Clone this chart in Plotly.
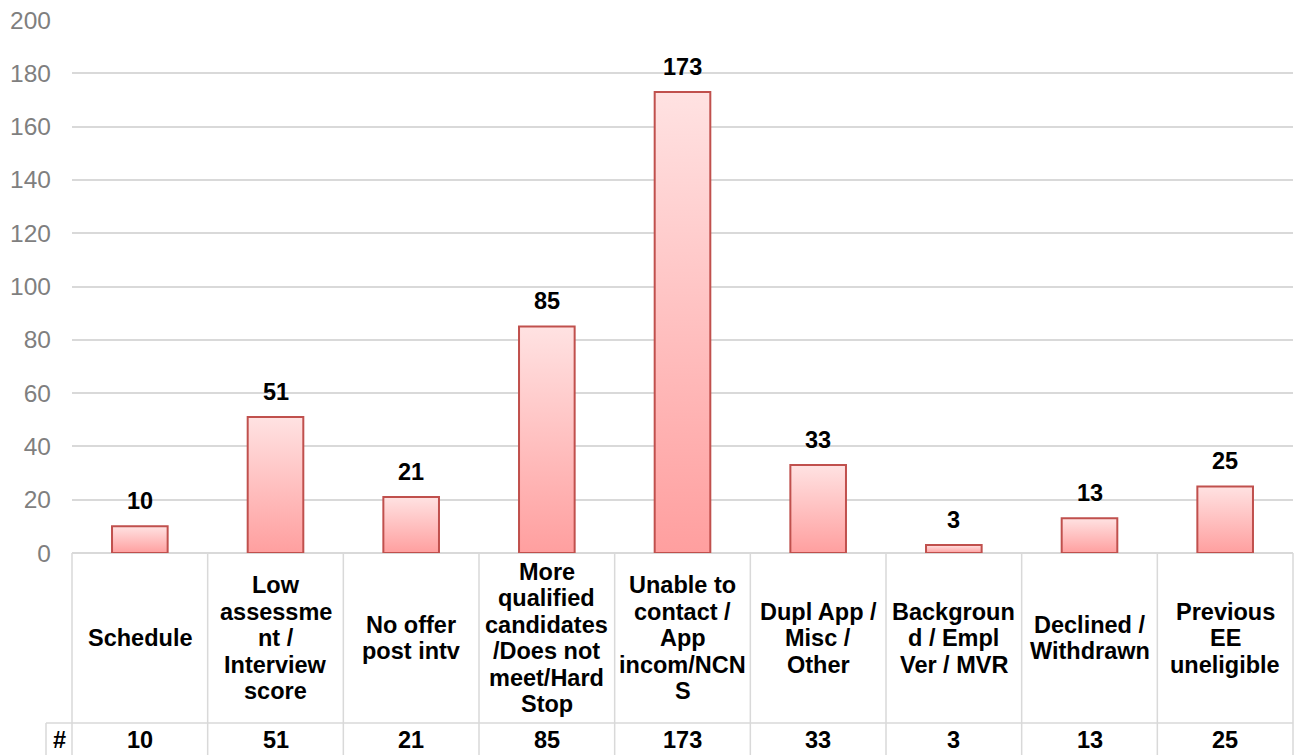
import plotly.graph_objects as go

# categories (line breaks as shown on the chart) and counts
categories = [
    "Schedule",
    "Low<br>assessme<br>nt /<br>Interview<br>score",
    "No offer<br>post intv",
    "More<br>qualified<br>candidates<br>/Does not<br>meet/Hard<br>Stop",
    "Unable to<br>contact /<br>App<br>incom/NCN<br>S",
    "Dupl App /<br>Misc /<br>Other",
    "Backgroun<br>d / Empl<br>Ver / MVR",
    "Declined /<br>Withdrawn",
    "Previous<br>EE<br>uneligible",
]
counts = [10, 51, 21, 85, 173, 33, 3, 13, 25]
row_label = "#"

W, H = 1299, 755
M_L, M_R, M_T, M_B = 72, 6, 20, 202
PLOT_H = H - M_T - M_B
FONT = "Liberation Sans, Arial, sans-serif"
GRID = "#d9d9d9"
TXT = 23.5
LINE_H = 26.5
n = len(categories)
bw = 0.205  # half bar width in category units


def py(px_below):
    # paper y for a pixel offset below the plot bottom
    return -px_below / PLOT_H


def px_x(px_left):
    # paper x for a pixel offset left of the plot
    return -px_left / (W - M_L - M_R)


fig = go.Figure()

for i, v in enumerate(counts):
    fig.add_trace(
        go.Scatter(
            x=[i - bw, i - bw, i + bw, i + bw, i - bw],
            y=[0, v, v, 0, 0],
            mode="lines",
            fill="toself",
            fillgradient=dict(type="vertical", colorscale=[[0, "#ff9f9f"], [1, "#ffe2e2"]]),
            line=dict(color="#c0504d", width=2),
            hoverinfo="skip",
            showlegend=False,
        )
    )

bold = dict(family=FONT, size=TXT, color="black")
annotations = []
for i, v in enumerate(counts):
    annotations.append(dict(
        x=i, y=v, xref="x", yref="y", text=f"<b>{v}</b>", showarrow=False,
        xanchor="center", yanchor="middle", yshift=25, font=bold,
    ))
    lines = categories[i].split("<br>")
    for j, part in enumerate(lines):
        off = 85 + (j - (len(lines) - 1) / 2) * LINE_H
        annotations.append(dict(
            x=i, y=py(off), xref="x", yref="paper", text=f"<b>{part}</b>", showarrow=False,
            xanchor="center", yanchor="middle", font=bold,
        ))
    annotations.append(dict(
        x=i, y=py(187), xref="x", yref="paper", text=f"<b>{v}</b>", showarrow=False,
        xanchor="center", yanchor="middle", font=bold,
    ))
annotations.append(dict(
    x=px_x(13), y=py(187), xref="paper", yref="paper", text=f"<b>{row_label}</b>", showarrow=False,
    xanchor="center", yanchor="middle", font=bold,
))

shapes = []
line = dict(color=GRID, width=1.5)
for k in range(n + 1):
    shapes.append(dict(type="line", xref="paper", yref="paper", x0=k / n, x1=k / n,
                       y0=0, y1=py(M_B + 5), line=line))
shapes.append(dict(type="line", xref="paper", yref="paper", x0=px_x(26), x1=1,
                   y0=py(170), y1=py(170), line=line))
shapes.append(dict(type="line", xref="paper", yref="paper", x0=px_x(26), x1=px_x(26),
                   y0=py(170), y1=py(M_B + 5), line=line))

fig.update_layout(
    width=W,
    height=H,
    margin=dict(l=M_L, r=M_R, t=M_T, b=M_B, autoexpand=False),
    paper_bgcolor="white",
    plot_bgcolor="white",
    font=dict(family=FONT),
    xaxis=dict(range=[-0.5, n - 0.5], showticklabels=False, showgrid=False, zeroline=False,
               fixedrange=True, automargin=False),
    yaxis=dict(range=[0, 200], dtick=20, showgrid=True, gridcolor=GRID, gridwidth=1.5,
               zeroline=True, zerolinecolor=GRID, zerolinewidth=1.5,
               tickfont=dict(family=FONT, size=24.5, color="#7f7f7f"), ticklabelstandoff=20,
               fixedrange=True, automargin=False),
    shapes=shapes,
    annotations=annotations,
)

fig.write_html(
    "out.html",
    config={"displayModeBar": False},
    post_script="document.body.style.margin='0';document.body.style.overflow='hidden';",
)
